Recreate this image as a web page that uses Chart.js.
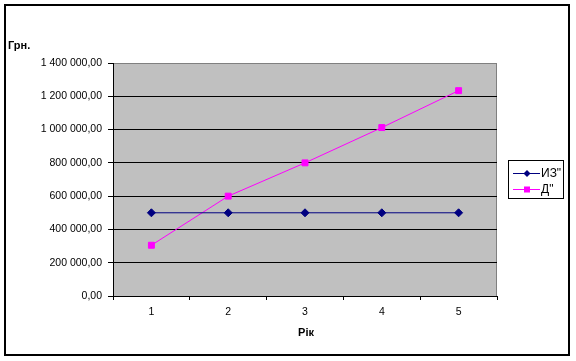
<!DOCTYPE html>
<html lang="uk">
<head>
    <meta charset="UTF-8">
    <title>Грн. по роках</title>
    <script src="https://cdn.jsdelivr.net/npm/chart.js"></script>
    <style>
        body { margin: 0; padding: 0; background: #fff; }
        #wrap { width: 576px; height: 361px; }
    </style>
</head>
<body>
    <div id="wrap"><canvas id="lineChart" width="576" height="361"></canvas></div>
    <script>
        // data
        const years = ['1', '2', '3', '4', '5'];
        const izValues = [500000, 500000, 500000, 500000, 500000];
        const dValues = [305000, 600000, 800000, 1012000, 1234000];
        const yTicks = [0, 200000, 400000, 600000, 800000, 1000000, 1200000, 1400000];
        const seriesNames = ['ИЗ"', 'Д"'];

        const FONT = 'Arial, "Liberation Sans", sans-serif';

        function fmt(v) {
            const s = Math.round(v).toString().replace(/\B(?=(\d{3})+(?!\d))/g, ' ');
            return s + ',00';
        }

        // grey plot background + frame + titles + legend
        const decor = {
            id: 'decor',
            beforeDraw(chart) {
                const { ctx, chartArea: a } = chart;
                ctx.save();
                ctx.fillStyle = '#c0c0c0';
                ctx.fillRect(a.left, a.top, a.right - a.left, a.bottom - a.top);
                ctx.strokeStyle = '#808080';
                ctx.lineWidth = 1;
                ctx.beginPath();
                ctx.moveTo(a.left, a.top + 0.5);
                ctx.lineTo(a.right - 0.5, a.top + 0.5);
                ctx.lineTo(a.right - 0.5, a.bottom);
                ctx.stroke();
                ctx.restore();
            },
            afterDraw(chart) {
                const { ctx } = chart;
                ctx.save();
                // outer frame
                ctx.strokeStyle = '#000';
                ctx.lineWidth = 2;
                ctx.strokeRect(5, 5, 564, 350);

                // axis titles
                ctx.fillStyle = '#000';
                ctx.font = 'bold 11px ' + FONT;
                ctx.textBaseline = 'middle';
                ctx.textAlign = 'left';
                ctx.fillText('Грн.', 8, 46);
                ctx.textAlign = 'center';
                ctx.fillText('Рік', 306, 333);

                // legend
                ctx.lineWidth = 1;
                ctx.strokeRect(508.5, 160.5, 55, 38);
                ctx.font = '12px ' + FONT;
                ctx.textAlign = 'left';
                chart.data.datasets.forEach((ds, i) => {
                    const y = 173 + i * 16;
                    ctx.strokeStyle = ds.borderColor;
                    ctx.beginPath();
                    ctx.moveTo(513, y + 0.5);
                    ctx.lineTo(540, y + 0.5);
                    ctx.stroke();
                    ctx.fillStyle = ds.pointBackgroundColor;
                    if (ds.pointStyle === 'rect') {
                        ctx.fillRect(524, y - 2.5, 6, 6);
                    } else {
                        ctx.beginPath();
                        ctx.moveTo(527, y - 3);
                        ctx.lineTo(530.5, y + 0.5);
                        ctx.lineTo(527, y + 4);
                        ctx.lineTo(523.5, y + 0.5);
                        ctx.closePath();
                        ctx.fill();
                    }
                    ctx.fillStyle = '#000';
                    ctx.fillText(ds.label, 541, y + 1);
                });
                ctx.restore();
            }
        };

        const ctxLine = document.getElementById('lineChart').getContext('2d');
        const lineChart = new Chart(ctxLine, {
            type: 'line',
            data: {
                labels: years,
                datasets: [{
                    label: seriesNames[0],
                    data: izValues,
                    borderColor: '#000080',
                    backgroundColor: '#000080',
                    pointBackgroundColor: '#000080',
                    pointBorderColor: '#000080',
                    pointStyle: 'rectRot',
                    pointRadius: 4,
                    borderWidth: 1,
                    tension: 0
                }, {
                    label: seriesNames[1],
                    data: dValues,
                    borderColor: '#ff00ff',
                    backgroundColor: '#ff00ff',
                    pointBackgroundColor: '#ff00ff',
                    pointBorderColor: '#ff00ff',
                    pointStyle: 'rect',
                    pointRadius: 4.2,
                    borderWidth: 1,
                    tension: 0
                }]
            },
            options: {
                responsive: false,
                animation: false,
                layout: { padding: { left: 0, right: 79, top: 63, bottom: 0 } },
                plugins: {
                    legend: { display: false },
                    tooltip: { enabled: false }
                },
                scales: {
                    x: {
                        offset: true,
                        afterFit(scale) { scale.height = 65; },
                        border: { color: '#000', width: 1 },
                        grid: {
                            offset: true,
                            drawOnChartArea: false,
                            tickLength: 4,
                            color: '#000'
                        },
                        ticks: {
                            color: '#000',
                            padding: 6,
                            font: { family: FONT, size: 10.5 }
                        }
                    },
                    y: {
                        min: yTicks[0],
                        max: yTicks[yTicks.length - 1],
                        afterFit(scale) { scale.width = 113; },
                        afterBuildTicks(scale) {
                            scale.ticks = yTicks.map(v => ({ value: v }));
                        },
                        border: { color: '#000', width: 1 },
                        grid: {
                            color: c => (c.tick && c.tick.value === yTicks[yTicks.length - 1]) ? '#808080' : '#000',
                            tickColor: '#000',
                            tickLength: 5
                        },
                        ticks: {
                            color: '#000',
                            padding: 6,
                            font: { family: FONT, size: 10.5 },
                            callback: v => fmt(v)
                        }
                    }
                }
            },
            plugins: [decor]
        });
    </script>
</body>
</html>
